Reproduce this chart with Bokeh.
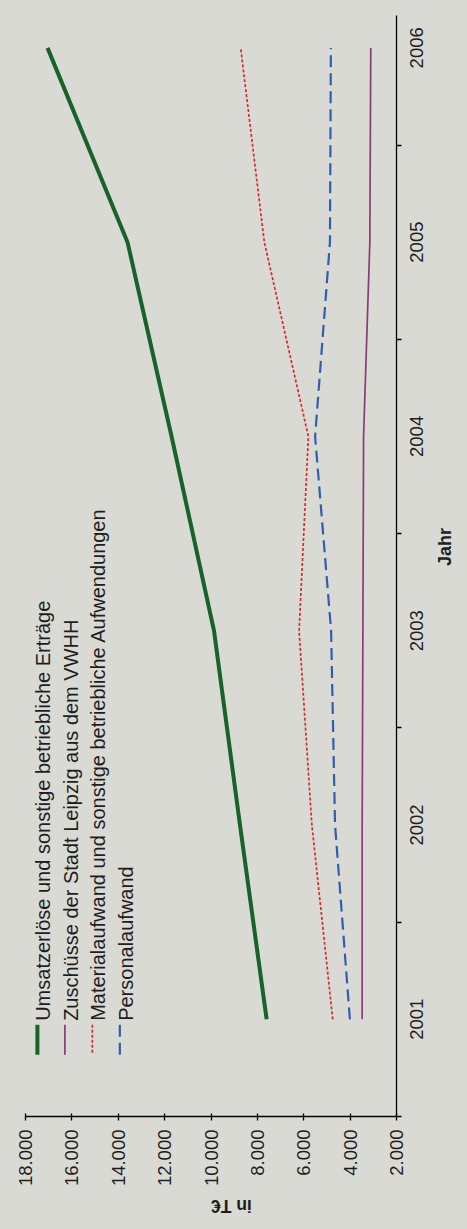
import math
from bokeh.plotting import figure
from bokeh.models import Range1d, FixedTicker, ColumnDataSource, CustomJSTickFormatter
from bokeh.core.properties import value
from bokeh.embed import file_html
from bokeh.resources import INLINE

# ---------------- data ----------------
years = [2001, 2002, 2003, 2004, 2005, 2006]
year_labels = ["2001", "2002", "2003", "2004", "2005", "2006"]
umsatz = [7600, 8750, 9870, 11700, 13600, 17050]
zuschuesse = [3480, 3480, 3450, 3420, 3150, 3110]
material = [4750, 5650, 6200, 5800, 7700, 8720]
personal = [4010, 4650, 4820, 5510, 4870, 4830]

value_ticks = [2000, 4000, 6000, 8000, 10000, 12000, 14000, 16000, 18000]
value_tick_labels = ["2.000", "4.000", "6.000", "8.000", "10.000",
                     "12.000", "14.000", "16.000", "18.000"]

series_names = [
    "Umsatzerlöse und sonstige betriebliche Erträge",
    "Zuschüsse der Stadt Leipzig aus dem VWHH",
    "Materialaufwand und sonstige betriebliche Aufwendungen",
    "Personalaufwand",
]
axis_title_value = "in T€"
axis_title_year = "Jahr"

# ---------------- style ----------------
BG = "#dadad5"
FONT = "Liberation Sans"
TXT = "#1e1e1e"
styles = [
    dict(color="#17632a", width=4.0, dash="solid"),
    dict(color="#8a3a78", width=1.7, dash="solid"),
    dict(color="#d92b2b", width=1.7, dash="3 2"),
    dict(color="#2e5fae", width=2.2, dash="12 6"),
]

W, H = 467, 1229
BL, BT, BR, BB = 25, 15, 68, 109
FW = W - BL - BR
FH = H - BT - BB
X0, X1 = 18000, 2000
Y0 = 2000.5
PX_PER_YEAR = 195.0
Y1 = Y0 + FH / PX_PER_YEAR
YEAR_FONT_PX = 18.5


def xv(px):
    """canvas x pixel -> value coordinate"""
    return X0 + (px - BL) / FW * (X1 - X0)


def yv(py):
    """canvas y pixel -> year coordinate"""
    return Y1 - (py - BT) / FH * (Y1 - Y0)


p = figure(width=W, height=H,
           x_range=Range1d(X0, X1), y_range=Range1d(Y0, Y1),
           output_backend="svg", toolbar_location=None,
           y_axis_location="right",
           min_border_left=BL, min_border_top=BT,
           min_border_right=BR, min_border_bottom=BB)

p.background_fill_color = BG
p.border_fill_color = BG
p.outline_line_color = None
p.grid.grid_line_color = None

# value axis (bottom)
xa = p.xaxis[0]
xa.ticker = FixedTicker(ticks=value_ticks)
xa.major_label_overrides = {t: l for t, l in zip(value_ticks, value_tick_labels)}
xa.major_label_orientation = math.pi / 2
xa.major_label_text_font = FONT
xa.major_label_text_font_size = "18.5px"
xa.major_label_text_color = TXT
xa.major_label_standoff = 9
xa.axis_line_color = "black"
xa.axis_line_width = 1.3
xa.major_tick_line_color = "black"
xa.major_tick_line_width = 1.3
xa.major_tick_in = 3
xa.major_tick_out = 4
xa.minor_tick_line_color = None
xa.axis_label = axis_title_value
xa.axis_label_text_font = FONT
xa.axis_label_text_font_size = "17.5px"
xa.axis_label_text_font_style = "bold"
xa.axis_label_text_color = TXT
xa.axis_label_standoff = 17

# year axis (right); rotated labels are start-anchored by bokeh, so the
# (invisible) label anchors are moved down by half a label length to centre them
half_label = 0.5 * 4 * 0.556 * YEAR_FONT_PX / PX_PER_YEAR
ya = p.yaxis[0]
ya.ticker = FixedTicker(ticks=[y - half_label for y in years],
                        minor_ticks=[y - 0.5 for y in years])
ya.formatter = CustomJSTickFormatter(
    args=dict(labels=year_labels, first=years[0]),
    code="return labels[Math.round(tick) - first];")
ya.major_label_orientation = math.pi / 2
ya.major_label_text_font = FONT
ya.major_label_text_font_size = "%spx" % YEAR_FONT_PX
ya.major_label_text_color = TXT
ya.major_label_standoff = 15
ya.axis_line_color = "black"
ya.axis_line_width = 1.3
ya.major_tick_line_color = None
ya.major_tick_in = 0
ya.major_tick_out = 0
ya.minor_tick_line_color = "black"
ya.minor_tick_line_width = 1.3
ya.minor_tick_in = 0
ya.minor_tick_out = 5
ya.axis_label = axis_title_year
ya.axis_label_text_font = FONT
ya.axis_label_text_font_size = "18px"
ya.axis_label_text_font_style = "bold"
ya.axis_label_text_color = TXT
ya.axis_label_standoff = 12

if "axis_label_orientation" in ya.properties():
    ya.axis_label_orientation = math.pi / 2
    xa.axis_label_orientation = math.pi

# series
series = [umsatz, zuschuesse, material, personal]
for vals, st in zip(series, styles):
    src = ColumnDataSource(dict(v=vals, y=years))
    p.line("v", "y", source=src, line_color=st["color"], line_width=st["width"],
           line_dash=st["dash"], line_join="round")

# legend (rotated, drawn with glyphs)
LX0 = 37.0
LDX = 27.7
for i, (name, st) in enumerate(zip(series_names, styles)):
    sx = LX0 + i * LDX
    p.line([xv(sx), xv(sx)], [yv(1028), yv(1058)], line_color=st["color"],
           line_width=st["width"], line_dash=st["dash"])
    p.text([xv(sx + 6)], [yv(1024)], text=[name], angle=math.pi / 2,
           text_align="left", text_baseline="middle",
           text_font=value(FONT), text_font_size="20px", text_color=TXT)

html = file_html(p, INLINE)
html = html.replace("<head>", "<head><style>body{background:%s;}</style>" % BG, 1)
open("out.html", "w").write(html)
